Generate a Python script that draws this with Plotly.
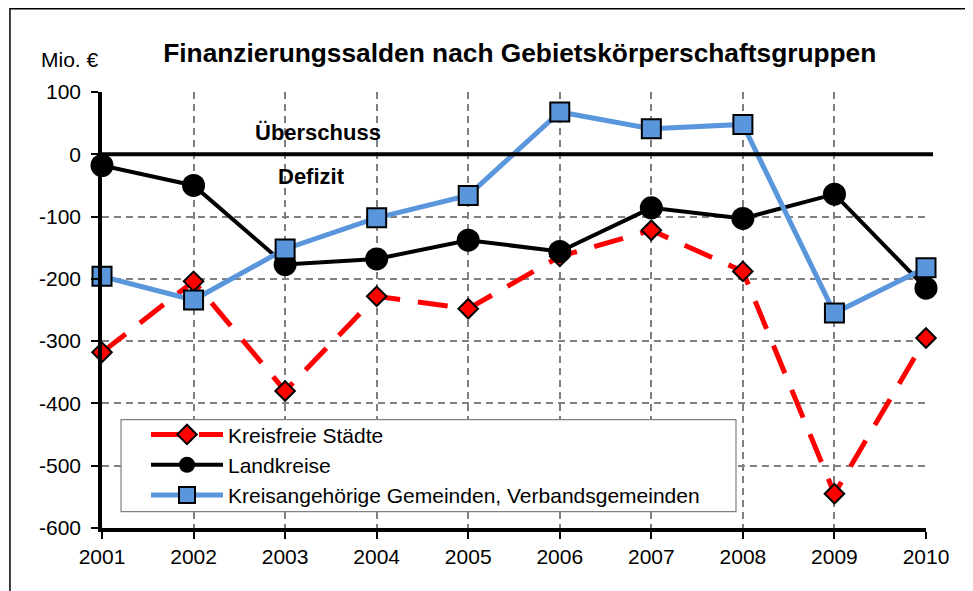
import plotly.graph_objects as go

years = [2001, 2002, 2003, 2004, 2005, 2006, 2007, 2008, 2009, 2010]
kreisfreie_staedte = [-318, -204, -380, -228, -248, -164, -122, -188, -545, -295]
landkreise = [-18, -50, -177, -168, -138, -156, -86, -103, -64, -215]
kreisangehoerige = [-196, -234, -152, -102, -66, 68, 41, 48, -255, -182]
y_ticks = [100, 0, -100, -200, -300, -400, -500, -600]

FONT = "Liberation Sans, Arial, sans-serif"
BLUE = "#5A96DB"

fig = go.Figure()
fig.add_trace(go.Scatter(
    x=years, y=kreisfreie_staedte, name="Kreisfreie Städte", mode="lines+markers",
    line=dict(color="#FF0000", width=5, dash="30px,18px"),
    marker=dict(symbol="diamond", size=15, color="#FF0000", line=dict(color="black", width=2)),
    cliponaxis=False, legendgroup="a"))
fig.add_trace(go.Scatter(
    x=years, y=landkreise, name="Landkreise", mode="lines+markers",
    line=dict(color="black", width=4),
    marker=dict(symbol="circle", size=23, color="black", line=dict(color="black", width=0)),
    cliponaxis=False, legendgroup="b"))
fig.add_trace(go.Scatter(
    x=years, y=kreisangehoerige, name="Kreisangehörige Gemeinden, Verbandsgemeinden",
    mode="lines+markers",
    line=dict(color=BLUE, width=5),
    marker=dict(symbol="square", size=19, color=BLUE, line=dict(color="black", width=2)),
    cliponaxis=False, legendgroup="c"))

fig.update_layout(
    width=973, height=591,
    margin=dict(l=94, r=55, t=84, b=71),
    paper_bgcolor="white", plot_bgcolor="white",
    font=dict(family=FONT, size=21, color="black"),
    title=dict(text="<b>Finanzierungssalden nach Gebietskörperschaftsgruppen</b>",
               x=0.507, xref="paper", xanchor="center", y=1 - 45 / 591, yanchor="middle",
               font=dict(size=26.3, family=FONT, color="black")),
    showlegend=True,
    legend=dict(x=0.0534, y=0.2608, xanchor="left", yanchor="top",
                bgcolor="rgba(0,0,0,0)", borderwidth=0,
                font=dict(size=21, family=FONT), traceorder="grouped",
                tracegroupgap=0, itemwidth=72),
)

fig.update_xaxes(
    range=[2001, 2010], tickvals=years, ticktext=[str(y) for y in years],
    showgrid=True, gridcolor="#808080", gridwidth=1.5, griddash="7px,5px",
    showline=True, linecolor="black", linewidth=3.5,
    ticks="outside", ticklen=7, tickwidth=2, tickcolor="black",
    ticklabelstandoff=0, zeroline=False,
    tickfont=dict(size=21, family=FONT))
fig.update_yaxes(
    range=[-600, 100], tickvals=y_ticks, ticktext=[str(v) for v in y_ticks],
    showgrid=True, gridcolor="#808080", gridwidth=1.5, griddash="7px,5px",
    showline=True, linecolor="black", linewidth=3.5,
    ticks="outside", ticklen=7, tickwidth=2, tickcolor="black",
    ticklabelstandoff=6, zeroline=False,
    tickfont=dict(size=21, family=FONT))

# zero line (Überschuss / Defizit separator)
fig.add_shape(type="line", xref="paper", yref="y", x0=0, x1=1.0085, y0=0, y1=0,
              line=dict(color="black", width=4), layer="above")

# legend frame
fig.add_shape(type="rect", xref="paper", yref="paper",
              x0=0.0231, x1=0.7694, y0=0.0376, y1=0.2486,
              line=dict(color="#808080", width=1.2), fillcolor="white", layer="above")

fig.add_annotation(text="<b>Überschuss</b>", x=2003.36, y=35, xref="x", yref="y",
                   showarrow=False, font=dict(size=22, family=FONT))
fig.add_annotation(text="<b>Defizit</b>", x=2003.29, y=-36, xref="x", yref="y",
                   showarrow=False, font=dict(size=22, family=FONT))
fig.add_annotation(text="Mio. €", x=-0.076, y=1.074, xref="paper", yref="paper",
                   xanchor="left", yanchor="middle", showarrow=False,
                   font=dict(size=21, family=FONT))

# outer frame (top and left edges visible)
fig.add_shape(type="rect", xref="paper", yref="paper",
              x0=-0.1117, x1=1.1, y0=-0.2, y1=1.191,
              line=dict(color="black", width=1.5), fillcolor="rgba(0,0,0,0)")

fig.write_html("out.html")
